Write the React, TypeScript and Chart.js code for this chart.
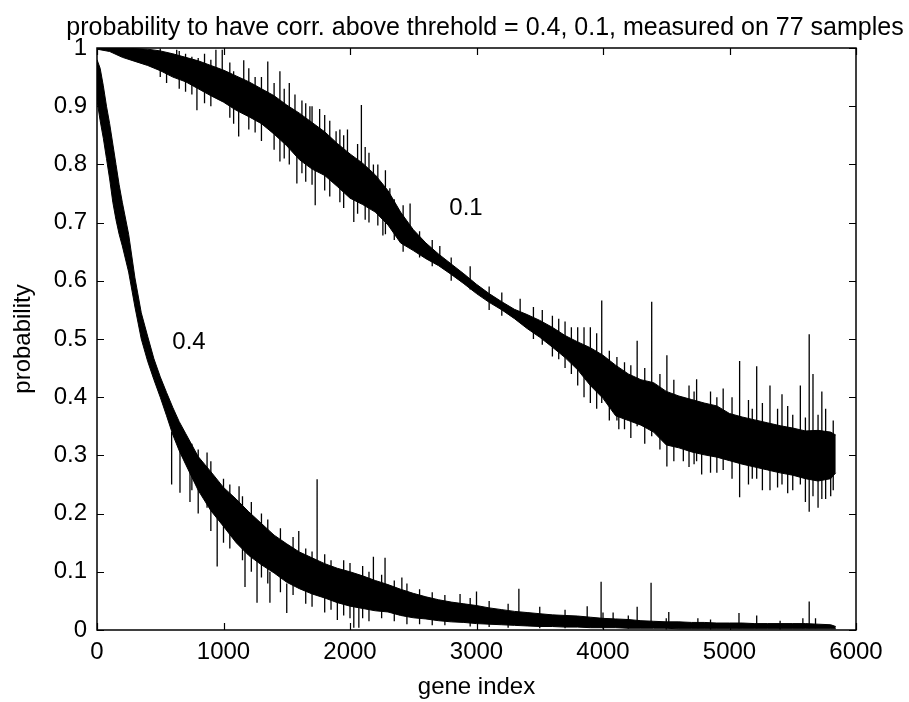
import React, { useEffect, useRef } from "react";
import { Chart, registerables } from "chart.js";
Chart.register(...registerables);

// ---- axes ----
const xTicks = [0, 1000, 2000, 3000, 4000, 5000, 6000];
const xTickLabels = ["0", "1000", "2000", "3000", "4000", "5000", "6000"];
const yTicks = [0, 0.1, 0.2, 0.3, 0.4, 0.5, 0.6, 0.7, 0.8, 0.9, 1];
const yTickLabels = ["0", "0.1", "0.2", "0.3", "0.4", "0.5", "0.6", "0.7", "0.8", "0.9", "1"];

const titleText = "probability to have corr. above threhold = 0.4, 0.1, measured on 77 samples";
const xTitle = "gene index";
const yTitle = "probability";

// ---- curve labels ----
const curveLabels = ["0.4", "0.1"];
const curveLabelX = [727, 2917];
const curveLabelY = [0.495, 0.725];

// ---- threshold 0.1 : dense band ----
const gene01 = [0, 100, 200, 300, 400, 500, 600, 700, 800, 900, 1000, 1100, 1200, 1300, 1400, 1500, 1600, 1700, 1800, 1900, 2000, 2100, 2200, 2300, 2400, 2500, 2600, 2700, 2800, 2900, 3000, 3100, 3200, 3300, 3400, 3500, 3600, 3700, 3800, 3900, 4000, 4100, 4200, 4300, 4400, 4500, 4600, 4700, 4800, 4900, 5000, 5100, 5200, 5300, 5400, 5500, 5600, 5700, 5800, 5840];
const upper01 = [1.0, 1.0, 1.0, 0.999, 0.998, 0.995, 0.99, 0.984, 0.978, 0.97, 0.962, 0.952, 0.942, 0.93, 0.918, 0.902, 0.888, 0.872, 0.856, 0.836, 0.818, 0.802, 0.782, 0.755, 0.718, 0.688, 0.665, 0.646, 0.629, 0.612, 0.594, 0.578, 0.564, 0.551, 0.542, 0.532, 0.52, 0.506, 0.495, 0.485, 0.472, 0.455, 0.44, 0.43, 0.425, 0.41, 0.402, 0.396, 0.39, 0.385, 0.372, 0.366, 0.361, 0.356, 0.351, 0.347, 0.342, 0.343, 0.34, 0.335];
const lower01 = [0.998, 0.994, 0.984, 0.977, 0.97, 0.961, 0.95, 0.942, 0.93, 0.918, 0.907, 0.893, 0.882, 0.87, 0.852, 0.832, 0.808, 0.792, 0.781, 0.762, 0.742, 0.731, 0.718, 0.696, 0.665, 0.652, 0.638, 0.626, 0.611, 0.595, 0.578, 0.563, 0.55, 0.535, 0.518, 0.503, 0.486, 0.468, 0.447, 0.42, 0.398, 0.368, 0.36, 0.352, 0.34, 0.318, 0.313, 0.306, 0.301, 0.297, 0.291, 0.285, 0.28, 0.275, 0.27, 0.266, 0.26, 0.256, 0.26, 0.27];
// whiskers: gene position, low end, high end
const spikeX01 = [500, 550, 630, 650, 700, 750, 790, 800, 850, 900, 940, 990, 1050, 1080, 1120, 1160, 1200, 1250, 1300, 1350, 1400, 1446, 1480, 1520, 1565, 1580, 1620, 1650, 1683, 1700, 1725, 1760, 1800, 1840, 1890, 1920, 1950, 1980, 2030, 2060, 2090, 2120, 2150, 2185, 2220, 2260, 2280, 2315, 2350, 2420, 2475, 2550, 2650, 2710, 2800, 2950, 3100, 3200, 3345, 3450, 3520, 3600, 3650, 3700, 3750, 3800, 3850, 3900, 3950, 3990, 4050, 4110, 4125, 4170, 4220, 4270, 4330, 4385, 4450, 4505, 4560, 4635, 4680, 4720, 4740, 4780, 4850, 4900, 4950, 5020, 5080, 5150, 5180, 5215, 5260, 5320, 5380, 5415, 5460, 5500, 5560, 5600, 5630, 5660, 5700, 5730, 5760, 5800, 5820];
const spikeLow01 = [0.95, 0.94, 0.95, 0.93, 0.925, 0.92, 0.893, 0.94, 0.905, 0.9, 0.93, 0.92, 0.88, 0.87, 0.848, 0.9, 0.86, 0.855, 0.84, 0.88, 0.825, 0.805, 0.81, 0.8, 0.85, 0.767, 0.785, 0.77, 0.82, 0.765, 0.73, 0.8, 0.755, 0.745, 0.78, 0.735, 0.725, 0.77, 0.701, 0.715, 0.75, 0.705, 0.7, 0.73, 0.695, 0.678, 0.68, 0.7, 0.67, 0.65, 0.66, 0.64, 0.625, 0.63, 0.6, 0.585, 0.55, 0.54, 0.53, 0.5, 0.49, 0.47, 0.465, 0.45, 0.44, 0.42, 0.4, 0.39, 0.38, 0.39, 0.36, 0.36, 0.345, 0.345, 0.33, 0.35, 0.32, 0.333, 0.31, 0.281, 0.29, 0.29, 0.28, 0.285, 0.29, 0.267, 0.27, 0.27, 0.275, 0.26, 0.228, 0.25, 0.26, 0.26, 0.24, 0.24, 0.245, 0.25, 0.235, 0.24, 0.25, 0.22, 0.203, 0.23, 0.21, 0.225, 0.225, 0.23, 0.24];
const spikeHigh01 = [0.999, 0.99, 0.997, 0.995, 0.99, 0.985, 0.96, 0.983, 0.99, 0.98, 0.997, 0.997, 0.975, 0.96, 0.92, 0.979, 0.965, 0.95, 0.95, 0.977, 0.94, 0.96, 0.93, 0.94, 0.92, 0.85, 0.91, 0.905, 0.9, 0.9, 0.8, 0.895, 0.885, 0.875, 0.857, 0.86, 0.85, 0.86, 0.76, 0.835, 0.902, 0.83, 0.82, 0.8, 0.8, 0.73, 0.79, 0.759, 0.74, 0.73, 0.733, 0.685, 0.67, 0.66, 0.64, 0.625, 0.59, 0.58, 0.569, 0.555, 0.55, 0.54, 0.535, 0.53, 0.52, 0.52, 0.52, 0.52, 0.51, 0.566, 0.48, 0.469, 0.4, 0.46, 0.455, 0.497, 0.45, 0.564, 0.44, 0.472, 0.43, 0.4, 0.42, 0.41, 0.431, 0.33, 0.41, 0.4, 0.415, 0.4, 0.462, 0.395, 0.38, 0.453, 0.39, 0.42, 0.38, 0.405, 0.385, 0.37, 0.42, 0.365, 0.508, 0.44, 0.37, 0.41, 0.38, 0.3, 0.36];

// ---- threshold 0.4 : dense band ----
const gene04 = [0, 25, 50, 75, 100, 125, 150, 175, 200, 250, 300, 350, 400, 450, 500, 550, 600, 650, 700, 800, 900, 1000, 1100, 1200, 1300, 1400, 1500, 1600, 1700, 1800, 1900, 2000, 2100, 2200, 2300, 2400, 2500, 2600, 2700, 2800, 2900, 3000, 3100, 3200, 3300, 3400, 3500, 3600, 3700, 3800, 3900, 4000, 4100, 4200, 4300, 4400, 4500, 4600, 4700, 4800, 4900, 5000, 5100, 5200, 5300, 5400, 5500, 5600, 5700, 5800, 5840];
const upper04 = [0.98, 0.965, 0.935, 0.9, 0.87, 0.835, 0.8, 0.765, 0.735, 0.68, 0.605, 0.545, 0.505, 0.466, 0.435, 0.408, 0.382, 0.358, 0.338, 0.298, 0.272, 0.245, 0.225, 0.203, 0.183, 0.163, 0.148, 0.134, 0.124, 0.114, 0.106, 0.1, 0.093, 0.085, 0.078, 0.07, 0.063, 0.057, 0.052, 0.048, 0.045, 0.042, 0.038, 0.035, 0.032, 0.03, 0.028, 0.026, 0.025, 0.024, 0.022, 0.02, 0.019, 0.018, 0.016, 0.015, 0.014, 0.014, 0.013, 0.013, 0.012, 0.012, 0.012, 0.011, 0.011, 0.011, 0.011, 0.011, 0.01, 0.009, 0.006];
const lower04 = [0.91, 0.875, 0.845, 0.81, 0.775, 0.735, 0.705, 0.68, 0.66, 0.615, 0.555, 0.5, 0.462, 0.43, 0.4, 0.368, 0.335, 0.308, 0.285, 0.24, 0.205, 0.178, 0.15, 0.128, 0.112, 0.098, 0.082, 0.071, 0.062, 0.055, 0.047, 0.041, 0.037, 0.033, 0.031, 0.025, 0.021, 0.019, 0.016, 0.014, 0.013, 0.011, 0.01, 0.009, 0.008, 0.007, 0.006, 0.006, 0.005, 0.005, 0.004, 0.004, 0.004, 0.003, 0.003, 0.003, 0.003, 0.002, 0.002, 0.002, 0.002, 0.002, 0.002, 0.002, 0.002, 0.002, 0.002, 0.002, 0.002, 0.002, 0.002];
const spikeX04 = [590, 656, 735, 750, 800, 870, 900, 950, 1000, 1050, 1123, 1150, 1170, 1220, 1265, 1300, 1350, 1367, 1450, 1500, 1550, 1595, 1650, 1700, 1740, 1800, 1850, 1900, 1950, 2000, 2030, 2070, 2100, 2150, 2185, 2250, 2277, 2350, 2410, 2450, 2550, 2650, 2750, 2870, 2950, 3000, 3100, 3250, 3335, 3500, 3700, 3875, 3985, 4000, 4080, 4200, 4270, 4380, 4500, 4520, 4750, 4850, 5075, 5215, 5400, 5580, 5630, 5680];
const spikeLow04 = [0.25, 0.236, 0.22, 0.24, 0.2, 0.21, 0.17, 0.109, 0.15, 0.14, 0.19, 0.12, 0.074, 0.1, 0.047, 0.09, 0.08, 0.047, 0.065, 0.029, 0.06, 0.08, 0.045, 0.04, 0.09, 0.03, 0.035, 0.017, 0.025, 0.02, 0.004, 0.004, 0.02, 0.015, 0.06, 0.02, 0.07, 0.015, 0.05, 0.01, 0.01, 0.008, 0.008, 0.03, 0.006, 0.02, 0.005, 0.004, 0.02, 0.003, 0.003, 0.01, 0.01, 0.002, 0.01, 0.002, 0.01, 0.01, 0.001, 0.005, 0.003, 0.001, 0.003, 0.003, 0.001, 0.003, 0.003, 0.003];
const spikeHigh04 = [0.34, 0.33, 0.3, 0.32, 0.31, 0.305, 0.29, 0.2, 0.26, 0.25, 0.247, 0.23, 0.16, 0.22, 0.12, 0.2, 0.19, 0.1, 0.175, 0.08, 0.16, 0.17, 0.14, 0.135, 0.259, 0.13, 0.12, 0.06, 0.12, 0.115, 0.05, 0.05, 0.11, 0.1, 0.126, 0.095, 0.124, 0.085, 0.09, 0.08, 0.07, 0.065, 0.06, 0.062, 0.055, 0.066, 0.05, 0.045, 0.071, 0.04, 0.035, 0.041, 0.083, 0.03, 0.03, 0.025, 0.04, 0.081, 0.02, 0.031, 0.02, 0.018, 0.029, 0.025, 0.016, 0.02, 0.049, 0.02];

const FONT = "'Liberation Sans', Arial, Helvetica, sans-serif";

function pts(xs: number[], ys: number[]) {
  return xs.map((x, i) => ({ x, y: ys[i] }));
}
function spikePts(xs: number[], lo: number[], hi: number[]) {
  const out: any[] = [];
  xs.forEach((x, i) => {
    out.push({ x, y: lo[i] });
    out.push({ x, y: hi[i] });
    out.push({ x, y: null });
  });
  return out;
}

const framePlugin = {
  id: "matlabFrame",
  afterDatasetsDraw(chart: any) {
    const { ctx, chartArea: a, scales } = chart;
    const xs = scales.x;
    const ys = scales.y;
    ctx.save();
    ctx.strokeStyle = "#000";
    ctx.lineWidth = 1.5;
    ctx.strokeRect(a.left, a.top, a.right - a.left, a.bottom - a.top);
    ctx.lineWidth = 1.2;
    ctx.beginPath();
    xTicks.forEach((v) => {
      const px = Math.round(xs.getPixelForValue(v)) + 0.5;
      ctx.moveTo(px, a.bottom);
      ctx.lineTo(px, a.bottom - 7);
      ctx.moveTo(px, a.top);
      ctx.lineTo(px, a.top + 7);
    });
    yTicks.forEach((v) => {
      const py = Math.round(ys.getPixelForValue(v)) + 0.5;
      ctx.moveTo(a.left, py);
      ctx.lineTo(a.left + 7, py);
      ctx.moveTo(a.right, py);
      ctx.lineTo(a.right - 7, py);
    });
    ctx.stroke();

    ctx.fillStyle = "#000";
    ctx.font = `24px ${FONT}`;
    ctx.textAlign = "center";
    ctx.textBaseline = "middle";
    curveLabels.forEach((t, i) => {
      ctx.fillText(t, xs.getPixelForValue(curveLabelX[i]), ys.getPixelForValue(curveLabelY[i]));
    });

    ctx.font = `25px ${FONT}`;
    ctx.textBaseline = "alphabetic";
    ctx.fillText(titleText, 485, 35);

    ctx.font = `24px ${FONT}`;
    ctx.fillText(xTitle, (a.left + a.right) / 2, 694);

    ctx.translate(30, (a.top + a.bottom) / 2);
    ctx.rotate(-Math.PI / 2);
    ctx.fillText(yTitle, 0, 0);
    ctx.restore();
  },
};

export default function App() {
  const ref = useRef<HTMLCanvasElement | null>(null);
  useEffect(() => {
    if (!ref.current) return;
    const band = (data: any[], fill: any) => ({
      data,
      borderColor: "#000",
      backgroundColor: "#000",
      borderWidth: 1,
      pointRadius: 0,
      tension: 0,
      fill,
    });
    const chart = new Chart(ref.current, {
      type: "line",
      data: {
        datasets: [
          band(pts(gene01, upper01), "+1"),
          band(pts(gene01, lower01), false),
          band(pts(gene04, upper04), "+1"),
          band(pts(gene04, lower04), false),
          { ...band(spikePts(spikeX01, spikeLow01, spikeHigh01), false), borderWidth: 1.3, spanGaps: false },
          { ...band(spikePts(spikeX04, spikeLow04, spikeHigh04), false), borderWidth: 1.3, spanGaps: false },
        ],
      },
      options: {
        animation: false,
        responsive: false,
        events: [],
        layout: { padding: { left: 0, right: 53, top: 48, bottom: 0 } },
        plugins: { legend: { display: false }, tooltip: { enabled: false }, title: { display: false } },
        scales: {
          x: {
            type: "linear",
            min: 0,
            max: 6000,
            grid: { display: false, drawTicks: false, tickLength: 0 },
            border: { display: false },
            afterBuildTicks: (s: any) => {
              s.ticks = xTicks.map((v) => ({ value: v }));
            },
            afterFit: (s: any) => {
              s.height = 72;
            },
            ticks: {
              padding: 8,
              color: "#000",
              font: { family: FONT, size: 24 },
              maxRotation: 0,
              autoSkip: false,
              callback: (_v: any, i: number) => xTickLabels[i],
            },
          },
          y: {
            type: "linear",
            min: 0,
            max: 1,
            grid: { display: false, drawTicks: false, tickLength: 0 },
            border: { display: false },
            afterBuildTicks: (s: any) => {
              s.ticks = yTicks.map((v) => ({ value: v }));
            },
            afterFit: (s: any) => {
              s.width = 97;
            },
            ticks: {
              padding: 10,
              color: "#000",
              font: { family: FONT, size: 24 },
              autoSkip: false,
              callback: (_v: any, i: number) => yTickLabels[i],
            },
          },
        },
      },
      plugins: [framePlugin],
    } as any);
    return () => chart.destroy();
  }, []);
  return (
    <div style={{ position: "fixed", left: 0, top: 0, width: 909, height: 702, background: "#fff" }}>
      <canvas ref={ref} width={909} height={702} style={{ display: "block" }} />
    </div>
  );
}
